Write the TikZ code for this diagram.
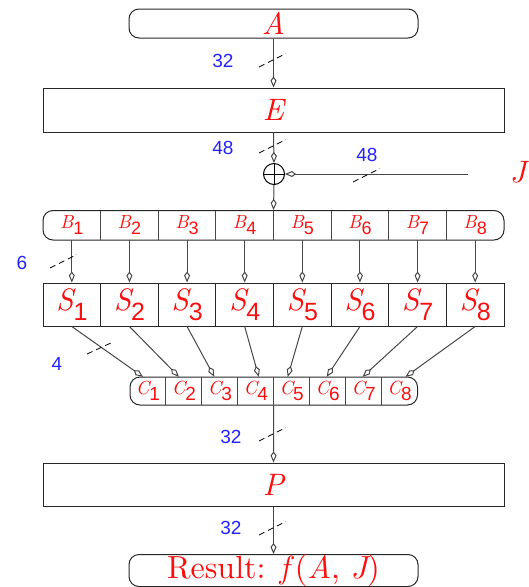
\documentclass[tikz,border=0pt]{standalone}
\usepackage{fontspec}
\usetikzlibrary{arrows.meta}
\newfontfamily\lmit{lmroman10-italic.otf}
\newfontfamily\lmrm{lmroman10-regular.otf}
\newfontfamily\hel{Liberation Sans}
\definecolor{lblue}{RGB}{35,35,250}
\definecolor{tred}{RGB}{250,15,15}
\newcommand\subd[3]{{\lmit #1}\raisebox{-0.32em}{\fontsize{#3}{#3}\selectfont\hel #2}}
\begin{document}
\begin{tikzpicture}[x=1pt,y=-1pt,
  box/.style={draw=black!85, line width=1pt, inner sep=0pt, text=tred},
  rbox/.style={box, rounded corners=10pt},
  cell/.style={inner sep=0pt, text=tred},
  conn/.style={draw=black!72, line width=1pt, -{Kite[open,length=11pt,width=6pt,inset=4pt]}},
  tick/.style={draw=black, line width=0.8pt, dash pattern=on 6pt off 4pt},
  num/.style={text=lblue, font=\fontsize{19}{21}\selectfont\hel},
  big/.style={font=\fontsize{31}{32}\selectfont},
  mid/.style={font=\fontsize{19}{20}\selectfont},
]
\useasboundingbox (0,0) rectangle (529,587);

% A box
\node[rbox, minimum width=289pt, minimum height=29pt, big] (A) at (273.5,23.5) {\lmit A};
% E box
\node[box, minimum width=461pt, minimum height=44pt, big] (E) at (273.5,110) {\lmit E};
% XOR
\node[draw=black, line width=1pt, circle, minimum size=21pt, inner sep=0pt] (X) at (274,174) {};
\draw[line width=1pt] (X.north) -- (X.south) (X.west) -- (X.east);
% J input
\node[big, text=tred] (J) at (518,172) {\lmit J};
\coordinate (jin) at (468,174);

% B box
\node[rbox, minimum width=461pt, minimum height=29.5pt] (B) at (273.5,225.25) {};
\foreach \k in {1,...,7} {
  \draw[draw=black!72, line width=1pt] (43+57.625*\k,210.5) -- (43+57.625*\k,240);
}
\foreach \k in {1,...,8} {
  \node[cell, minimum width=57.625pt, minimum height=29.5pt, mid] (b\k) at (43+57.625*\k-28.8125,225.25) {\subd{B}{\k}{18}};
}
% S boxes
\foreach \k in {1,...,8} {
  \node[box, minimum width=57.625pt, minimum height=43pt, big] (s\k) at (43+57.625*\k-28.8125,304.5) {\subd{S}{\k}{25}};
}
% C box
\node[rbox, minimum width=287.5pt, minimum height=28pt] (C) at (273.75,391) {};
\foreach \k in {1,...,7} {
  \draw[draw=black!72, line width=1pt] (130+35.9375*\k,377) -- (130+35.9375*\k,405);
}
\foreach \k in {1,...,8} {
  \node[cell, minimum width=35.9375pt, minimum height=28pt, mid] (c\k) at (130+35.9375*\k-17.97,391) {\subd{C}{\k}{19}};
}
% P box
\node[box, minimum width=461pt, minimum height=43pt, big] (P) at (273.5,484.5) {\lmit P};
% Result box
\node[rbox, minimum width=289pt, minimum height=29pt, font=\fontsize{32}{33}\selectfont] (R) at (273.5,570.5) {\lmrm Result: {\lmit f}\,({\lmit A}, {\lmit J})};

% connectors
\draw[conn] (A.south) -- (E.north);
\draw[conn] (E.south) -- (X.north);
\draw[conn] (jin) -- (X.east);
\draw[conn] (X.south) -- (B.north);
\foreach \k in {1,...,8} { \draw[conn] (b\k.south) -- (s\k.north); }
\draw[conn] (s1.south) -- ([xshift=-5pt]c1.north);
\draw[conn] (s2.south) -- ([xshift=-5pt]c2.north);
\draw[conn] (s3.south) -- ([xshift=-5.5pt]c3.north);
\draw[conn] (s4.south) -- ([xshift=3pt]c4.north);
\draw[conn] (s5.south) -- ([xshift=-4pt]c5.north);
\draw[conn] (s6.south) -- ([xshift=-1pt]c6.north);
\draw[conn] (s7.south) -- ([xshift=-1pt]c7.north);
\draw[conn] (s8.south) -- ([xshift=6pt]c8.north);
\draw[conn] (C.south) -- (P.north);
\draw[conn] (P.south) -- (R.north);

% bus-width ticks
\draw[tick] (259,67) -- (286,53.5);
\draw[tick] (259,153) -- (286,139.5);
\draw[tick] (353,182) -- (380,168.5);
\draw[tick] (50,268) -- (77,254.5);
\draw[tick] (87,354) -- (113,342);
\draw[tick] (259,441) -- (286,427.5);
\draw[tick] (259,535) -- (286,521.5);

% width labels
\node[num] (n1) at (223,61) {32};
\node[num] (n2) at (223,148) {48};
\node[num] (n3) at (367,155) {48};
\node[num] (n4) at (22,263) {6};
\node[num] (n5) at (57,364) {4};
\node[num] (n6) at (231,437) {32};
\node[num] (n7) at (231,528) {32};
\end{tikzpicture}
\end{document}
